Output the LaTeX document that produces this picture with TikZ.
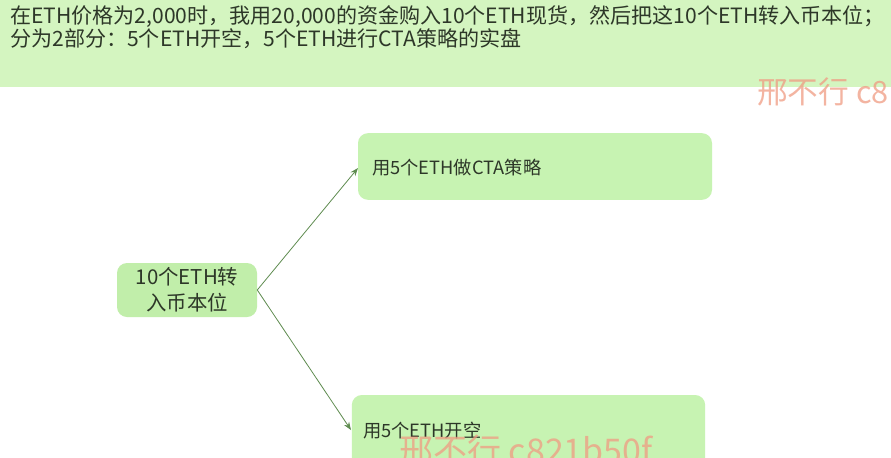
\documentclass[tikz,border=0pt]{standalone}
\usepackage{fontspec}
\setmainfont{Noto Sans CJK SC}
\newfontfamily\cjk{Noto Sans CJK SC}
\usetikzlibrary{arrows.meta}
\definecolor{bannerbg}{RGB}{212,245,192}
\definecolor{boxbg}{RGB}{199,243,178}
\definecolor{leftbg}{RGB}{193,238,170}
\definecolor{txt}{RGB}{45,55,40}
\definecolor{arrowc}{RGB}{95,140,80}
\definecolor{wm}{RGB}{240,155,130}
\tikzset{
  px/.style={x=0.75pt,y=-0.75pt},
  greenbox/.style={fill=boxbg,draw=none,rounded corners=7.5pt,inner sep=0pt},
  boxtext/.style={text=txt,inner sep=0pt,font=\cjk\fontsize{13.7pt}{15pt}\selectfont},
  conn/.style={draw=arrowc,line width=0.6pt,-{Stealth[length=6pt,width=4.5pt]}},
  watermark/.style={text=wm,opacity=0.75,inner sep=0pt,font=\cjk\fontsize{23pt}{26pt}\selectfont}
}
\begin{document}
\begin{tikzpicture}[px]
\useasboundingbox (0,0) rectangle (891,457);
\clip (0,0) rectangle (891,457);
\fill[white] (0,0) rectangle (891,457);
\fill[bannerbg] (0,0) rectangle (891,87);
\node[anchor=north west,inner sep=0pt,text=txt,align=left,font=\cjk\fontsize{15.8pt}{16pt}\selectfont] (banner) at (10,5)
  {在ETH价格为2,000时，我用20,000的资金购入10个ETH现货，然后把这10个ETH转入币本位；\\分为2部分：5个ETH开空，5个ETH进行CTA策略的实盘};
% boxes
\node[greenbox,fill=leftbg,minimum width=105pt,minimum height=40.5pt] (src) at (187,290) {};
\node[boxtext,align=center,font=\cjk\fontsize{15.3pt}{19.5pt}\selectfont] (srct) at (src.center) {10个ETH转\\入币本位};
\node[greenbox,minimum width=265.5pt,minimum height=50pt] (cta) at (535,166.5) {};
\node[boxtext,anchor=west] (ctat) at (372,168) {用5个ETH做CTA策略};
\node[greenbox,minimum width=265pt,minimum height=60pt] (short) at (528.5,435) {};
\node[boxtext,anchor=west] (shortt) at (363,431) {用5个ETH开空};
% connectors
\coordinate (ctain) at (358,168);
\coordinate (shortin) at (351,430);
\draw[conn] (src.east) -- (ctain);
\draw[conn] (src.east) -- (shortin);
% watermarks
\node[watermark,anchor=west] (wm1) at (757,92) {邢不行 c8};
\node[watermark,anchor=west,font=\cjk\fontsize{25.5pt}{28pt}\selectfont] (wm2) at (399,451) {邢不行 c821b50f};
\end{tikzpicture}
\end{document}
